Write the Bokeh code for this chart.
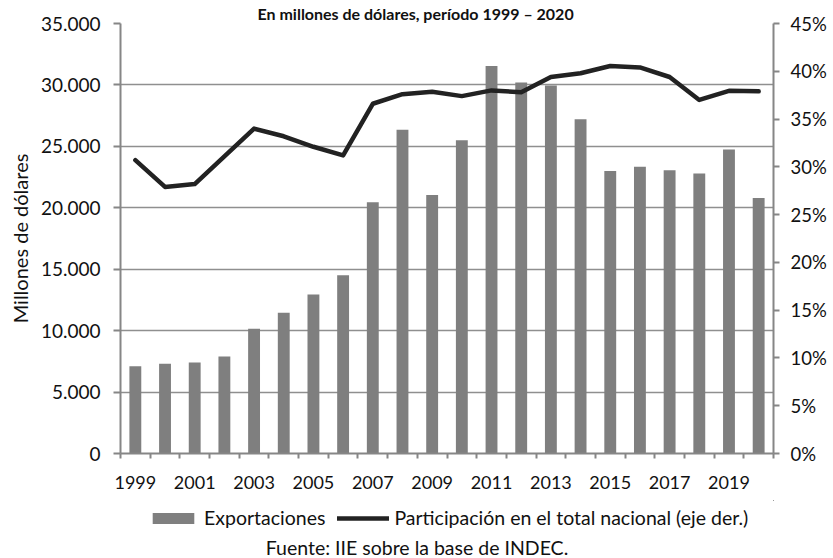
from bokeh.plotting import figure
from bokeh.layouts import column
from bokeh.models import (Range1d, LinearAxis, FixedTicker, Legend, LegendItem,
                          Title, Label, PrintfTickFormatter)
from bokeh.embed import file_html
from bokeh.resources import INLINE

# ---- data ----
years = list(range(1999, 2021))
exportaciones = [7100, 7300, 7400, 7900, 10150, 11450, 12950, 14500, 20450, 26350,
                 21050, 25500, 31550, 30200, 29950, 27200, 23000, 23350, 23050, 22800,
                 24750, 20800]
participacion = [30.7, 27.9, 28.2, 31.1, 34.0, 33.2, 32.1, 31.2, 36.6, 37.6,
                 37.85, 37.4, 38.0, 37.8, 39.4, 39.8, 40.55, 40.4, 39.4, 37.0,
                 37.95, 37.9]
left_ticks = [0, 5000, 10000, 15000, 20000, 25000, 30000, 35000]
left_labels = ["0", "5.000", "10.000", "15.000", "20.000", "25.000", "30.000", "35.000"]
right_ticks = [0, 5, 10, 15, 20, 25, 30, 35, 40, 45]
label_years = [1999, 2001, 2003, 2005, 2007, 2009, 2011, 2013, 2015, 2017, 2019]
title_text = "En millones de dólares, período 1999 – 2020"
source_text = "Fuente: IIE sobre la base de INDEC."
y_label = "Millones de dólares"
leg_bar = "Exportaciones"
leg_line = "Participación en el total nacional (eje der.)"

FONT = "Lato"
TXT = "#111111"
AX = "#868686"
BAR = "#7f7f7f"
LINE = "#222222"
W = 833
H1, H2 = 500, 58           # chart part and legend/source part
BL, BT, BR = 120, 22, 60
FW = W - BL - BR
FH = 431
BB = H1 - BT - FH
X0, X1 = years[0] - 0.5, years[-1] + 0.5

p = figure(width=W, height=H1, output_backend="svg", toolbar_location=None,
           x_range=Range1d(X0, X1), y_range=Range1d(0, 35000),
           min_border_left=BL, min_border_right=BR, min_border_top=BT,
           min_border_bottom=BB, x_axis_location=None, y_axis_location=None)
p.outline_line_color = None
p.background_fill_color = "white"
p.border_fill_color = "white"
p.extra_y_ranges = {"pct": Range1d(0, 45)}

# top title (in the reference it is cut by the image edge)
top_title = Title(text=title_text, align="left", offset=137, standoff=2,
                  text_font=FONT, text_font_size="16px", text_font_style="bold",
                  text_color=TXT)
p.add_layout(top_title, "above")

# axes
xaxis = LinearAxis(ticker=FixedTicker(ticks=label_years,
                                      minor_ticks=[y - 0.5 for y in years] + [years[-1] + 0.5]))
xaxis.major_tick_out = 0
xaxis.major_tick_in = 0
xaxis.minor_tick_out = 5
xaxis.minor_tick_in = 0
xaxis.minor_tick_line_color = AX
xaxis.minor_tick_line_width = 2
xaxis.axis_line_color = AX
xaxis.axis_line_width = 2
xaxis.major_label_text_font = FONT
xaxis.major_label_text_font_size = "18px"
xaxis.major_label_text_color = TXT
xaxis.major_label_standoff = 17
p.add_layout(xaxis, "below")

yaxis = LinearAxis(ticker=FixedTicker(ticks=left_ticks))
yaxis.major_label_overrides = {t: l for t, l in zip(left_ticks, left_labels)}
yaxis.major_tick_out = 7
yaxis.major_tick_in = 0
yaxis.minor_tick_out = 0
yaxis.minor_tick_in = 0
yaxis.major_tick_line_color = AX
yaxis.major_tick_line_width = 2
yaxis.axis_line_color = AX
yaxis.axis_line_width = 2
yaxis.major_label_text_font = FONT
yaxis.major_label_text_font_size = "19px"
yaxis.major_label_text_color = TXT
yaxis.major_label_standoff = 13
yaxis.axis_label = y_label
yaxis.axis_label_text_font = FONT
yaxis.axis_label_text_font_size = "20px"
yaxis.axis_label_text_font_style = "normal"
yaxis.axis_label_text_color = TXT
yaxis.axis_label_standoff = 6
p.add_layout(yaxis, "left")

raxis = LinearAxis(y_range_name="pct", ticker=FixedTicker(ticks=right_ticks),
                   formatter=PrintfTickFormatter(format="%d%%"))
raxis.major_tick_out = 6
raxis.major_tick_in = 0
raxis.minor_tick_out = 0
raxis.minor_tick_in = 0
raxis.major_tick_line_color = AX
raxis.major_tick_line_width = 2
raxis.axis_line_color = AX
raxis.axis_line_width = 2
raxis.major_label_text_font = FONT
raxis.major_label_text_font_size = "18.5px"
raxis.major_label_text_color = TXT
raxis.major_label_standoff = 11
p.add_layout(raxis, "right")

p.xgrid.visible = False
p.ygrid.ticker = FixedTicker(ticks=left_ticks)
p.ygrid.grid_line_color = "#8f8f8f"
p.ygrid.grid_line_width = 1.5
p.ygrid.level = "underlay"

p.vbar(x=years, top=exportaciones, width=0.4, fill_color=BAR, line_color=None)
p.line(x=years, y=participacion, y_range_name="pct", line_color=LINE,
       line_width=4.5, line_join="round", line_cap="round")

# ---- legend + source strip: its frame lines up with the chart frame, 1 unit = 1 px ----
q = figure(width=W, height=H2, output_backend="svg", toolbar_location=None,
           x_range=Range1d(0, FW), y_range=Range1d(0, H2),
           min_border_left=BL, min_border_right=BR, min_border_top=0,
           min_border_bottom=0, x_axis_location=None, y_axis_location=None)
q.outline_line_color = None
q.xgrid.visible = False
q.ygrid.visible = False
q.background_fill_color = "white"
q.border_fill_color = "white"
# legend-only swatch renderers: zero-height bars / a line outside this strip's ranges
lb = q.vbar(x=years, top=exportaciones, bottom=exportaciones, width=0.4,
            fill_color=BAR, line_color=None)
ll = q.line(x=years, y=exportaciones, line_color=LINE, line_width=4.5,
            line_join="round", line_cap="round")

legend = Legend(items=[LegendItem(label=leg_bar, renderers=[lb]),
                       LegendItem(label=leg_line, renderers=[ll])],
                orientation="horizontal", location=(27, 29),
                label_text_font=FONT, label_text_font_size="19.5px",
                label_text_color=TXT, glyph_width=52, glyph_height=14,
                label_standoff=5, spacing=12, padding=0, margin=0,
                background_fill_alpha=0, border_line_alpha=0)
q.add_layout(legend, "center")

src = Label(x=W / 2 - BL, y=11, text=source_text,
            text_font=FONT, text_font_size="19.5px", text_color=TXT,
            text_align="center", text_baseline="alphabetic")
q.add_layout(src)

layout = column(p, q, spacing=0)
open("out.html", "w").write(file_html(layout, INLINE))
